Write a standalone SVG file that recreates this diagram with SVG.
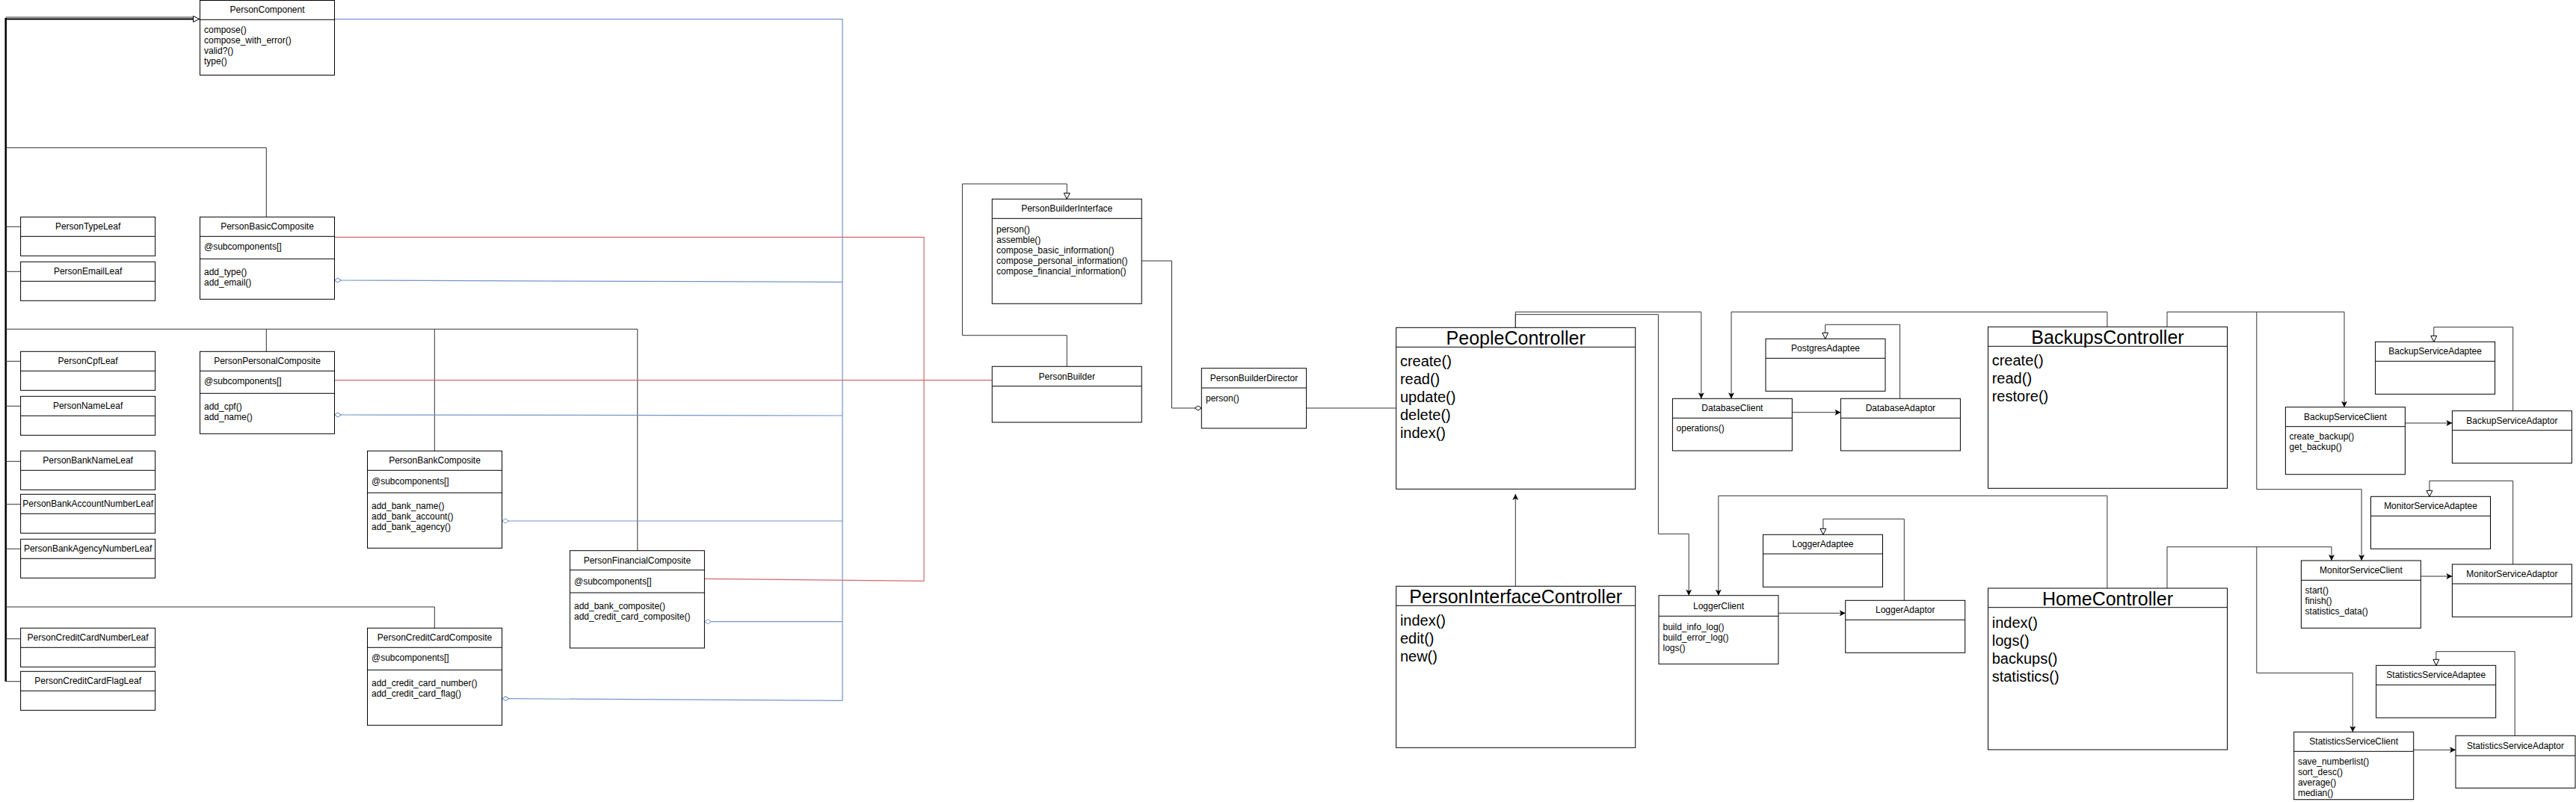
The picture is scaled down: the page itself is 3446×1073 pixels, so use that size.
<svg xmlns="http://www.w3.org/2000/svg" width="3446" height="1073" viewBox="0 0 3446 1073">
<style>
.b{fill:#fff;stroke:#000;stroke-width:1}
.d{stroke:#000;stroke-width:1}
.t{font-family:"Liberation Sans",Arial,sans-serif;font-size:12px;fill:#000;dominant-baseline:central}
.c{text-anchor:middle}
.L{font-size:25px}
.M{font-size:20px}
.ln{fill:none;stroke:#333;stroke-width:1}
.bl{fill:none;stroke:#7595c9;stroke-width:1.2}
.rd{fill:none;stroke:#d06a6a;stroke-width:1.2}
</style>
<defs>
<marker id="ar" markerUnits="userSpaceOnUse" markerWidth="10" markerHeight="10" refX="8" refY="4" orient="auto"><path d="M0,0 L8,4 L0,8 L2,4 z" fill="#000"/></marker>
<marker id="tri" markerUnits="userSpaceOnUse" markerWidth="12" markerHeight="12" refX="9" refY="5" orient="auto"><path d="M1,1 L9,5 L1,9 z" fill="#fff" stroke="#000"/></marker>
<marker id="dia" markerUnits="userSpaceOnUse" markerWidth="12" markerHeight="8" refX="1" refY="4" orient="auto"><path d="M1,4 L5.5,1 L10,4 L5.5,7 z" fill="#fff" stroke="#7595c9"/></marker>
<marker id="diak" markerUnits="userSpaceOnUse" markerWidth="12" markerHeight="8" refX="10" refY="4" orient="auto"><path d="M1,4 L5.5,1 L10,4 L5.5,7 z" fill="#fff" stroke="#000"/></marker>
</defs>
<rect width="3446" height="1073" fill="#fff"/>

<g id="connectors">
<!-- composite hierarchy -->
<path class="ln" d="M7.7,23 H262" stroke="#888"/>
<path d="M7.7,24 V911.7" fill="none" stroke="#000" stroke-width="2.5"/>
<path d="M7.7,25.5 H266.5" fill="none" stroke="#000" stroke-width="2" marker-end="url(#tri)"/>
<path class="ln" d="M7.7,197.7 H356.3 V290.3"/>
<path class="ln" d="M7.7,303.3 H27.6 M7.7,363.3 H27.6 M7.7,483.3 H27.6 M7.7,543.3 H27.6 M7.7,617.3 H27.6 M7.7,674.7 H27.6 M7.7,734.3 H27.6 M7.7,854.7 H27.6 M7.7,911.7 H27.6"/>
<path class="ln" d="M7.7,440.3 H852.8 V736.7 M356.3,440.3 V470.3 M581.3,440.3 V603.3"/>
<path class="ln" d="M7.7,812 H581.3 V840.3"/>
<!-- blue aggregation -->
<path class="bl" d="M447.4,25.7 H1127 V937.3"/>
<path class="bl" d="M447.4,375 L1127,377.3" marker-start="url(#dia)"/>
<path class="bl" d="M447.4,555 L1127,556" marker-start="url(#dia)"/>
<path class="bl" d="M671.6,697 H1127" marker-start="url(#dia)"/>
<path class="bl" d="M942.5,831.7 H1127" marker-start="url(#dia)"/>
<path class="bl" d="M671.8,934.7 L1127,937.3" marker-start="url(#dia)"/>
<!-- red builder links -->
<path class="rd" d="M447.4,317.3 H1236 V777.3"/>
<path class="rd" d="M447.4,508.7 H1327.2"/>
<path class="rd" d="M942.5,774.3 L1236,777.3"/>
<!-- builder -->
<path class="ln" d="M1427.2,490.3 V448.7 H1287.4 V246 H1427.2 V266.3" marker-end="url(#tri)"/>
<path class="ln" d="M1527.2,349 H1567.5 V546 H1607.3" marker-end="url(#diak)"/>
<path class="ln" d="M1747.6,546 H1867.7"/>
<!-- controllers -->
<path class="ln" d="M2027.3,438.3 V417.3 H2275.8 V533.3" marker-end="url(#ar)"/>
<path class="ln" d="M2027.3,438.3 V420.7 H2218.4 V714.3 H2259.2 V796.7" marker-end="url(#ar)"/>
<path class="ln" d="M2027.3,784.3 V661" marker-end="url(#ar)"/>
<path class="ln" d="M2818.9,437.3 V417.3 H2316 V533.3" marker-end="url(#ar)"/>
<path class="ln" d="M2899,437.3 V417.3 H3136 V544.7" marker-end="url(#ar)"/>
<path class="ln" d="M3018.8,417.3 V654.7 H3159.1 V750" marker-end="url(#ar)"/>
<path class="ln" d="M2818.9,787 V663.3 H2298.8 V796.7" marker-end="url(#ar)"/>
<path class="ln" d="M2899,787 V731.7 H3119 V750" marker-end="url(#ar)"/>
<path class="ln" d="M3018.8,731.7 V900.3 H3147.3 V979.3" marker-end="url(#ar)"/>
<!-- adapters -->
<path class="ln" d="M2397.5,551.7 H2462.4" marker-end="url(#ar)"/>
<path class="ln" d="M2541.6,533.3 V434.3 H2441.7 V453.3" marker-end="url(#tri)"/>
<path class="ln" d="M2378.6,820.3 H2468.7" marker-end="url(#ar)"/>
<path class="ln" d="M2547.3,803.3 V694.3 H2438.9 V715.3" marker-end="url(#tri)"/>
<path class="ln" d="M3217.2,566 H3280.4" marker-end="url(#ar)"/>
<path class="ln" d="M3361.7,549.7 V437.7 H3255.8 V457.3" marker-end="url(#tri)"/>
<path class="ln" d="M3238.3,771 H3280.4" marker-end="url(#ar)"/>
<path class="ln" d="M3361.7,755 V643.3 H3250 V664.3" marker-end="url(#tri)"/>
<path class="ln" d="M3228.5,1003.3 H3285" marker-end="url(#ar)"/>
<path class="ln" d="M3364.2,984.3 V871.7 H3258.9 V890.3" marker-end="url(#tri)"/>
</g>

<g id="PersonComponent"><rect class="b" x="267.5" y="0.5" width="180" height="100"/><line class="d" x1="267.5" y1="26.3" x2="447.5" y2="26.3"/><text class="t c" x="357.5" y="13.4">PersonComponent</text><text class="t" x="273" y="40.3">compose()</text><text class="t" x="273" y="54.3">compose_with_error()</text><text class="t" x="273" y="68.3">valid?()</text><text class="t" x="273" y="82.3">type()</text></g>

<g id="PersonTypeLeaf"><rect class="b" x="27.6" y="290.3" width="180" height="52"/><line class="d" x1="27.6" y1="316.3" x2="207.6" y2="316.3"/><text class="t c" x="117.6" y="303.3">PersonTypeLeaf</text></g>
<g id="PersonEmailLeaf"><rect class="b" x="27.6" y="350.3" width="180" height="52"/><line class="d" x1="27.6" y1="376.3" x2="207.6" y2="376.3"/><text class="t c" x="117.6" y="363.3">PersonEmailLeaf</text></g>
<g id="PersonCpfLeaf"><rect class="b" x="27.6" y="470.3" width="180" height="52"/><line class="d" x1="27.6" y1="496.3" x2="207.6" y2="496.3"/><text class="t c" x="117.6" y="483.3">PersonCpfLeaf</text></g>
<g id="PersonNameLeaf"><rect class="b" x="27.6" y="530.3" width="180" height="52"/><line class="d" x1="27.6" y1="556.3" x2="207.6" y2="556.3"/><text class="t c" x="117.6" y="543.3">PersonNameLeaf</text></g>
<g id="PersonBankNameLeaf"><rect class="b" x="27.6" y="603.3" width="180" height="52"/><line class="d" x1="27.6" y1="629.3" x2="207.6" y2="629.3"/><text class="t c" x="117.6" y="616.3">PersonBankNameLeaf</text></g>
<g id="PersonBankAccountNumberLeaf"><rect class="b" x="27.6" y="661.3" width="180" height="52"/><line class="d" x1="27.6" y1="687.3" x2="207.6" y2="687.3"/><text class="t c" x="117.6" y="674.3">PersonBankAccountNumberLeaf</text></g>
<g id="PersonBankAgencyNumberLeaf"><rect class="b" x="27.6" y="721.3" width="180" height="52"/><line class="d" x1="27.6" y1="747.3" x2="207.6" y2="747.3"/><text class="t c" x="117.6" y="734.3">PersonBankAgencyNumberLeaf</text></g>
<g id="PersonCreditCardNumberLeaf"><rect class="b" x="27.6" y="840.3" width="180" height="52"/><line class="d" x1="27.6" y1="866.3" x2="207.6" y2="866.3"/><text class="t c" x="117.6" y="853.3">PersonCreditCardNumberLeaf</text></g>
<g id="PersonCreditCardFlagLeaf"><rect class="b" x="27.6" y="898.3" width="180" height="52"/><line class="d" x1="27.6" y1="924.3" x2="207.6" y2="924.3"/><text class="t c" x="117.6" y="911.3">PersonCreditCardFlagLeaf</text></g>

<g id="PersonBasicComposite"><rect class="b" x="267.5" y="290.3" width="180" height="110"/><line class="d" x1="267.5" y1="316.3" x2="447.5" y2="316.3"/><line class="d" x1="267.5" y1="346.3" x2="447.5" y2="346.3"/><text class="t c" x="357.5" y="303.3">PersonBasicComposite</text><text class="t" x="273" y="330.3">@subcomponents[]</text><text class="t" x="273" y="364.3">add_type()</text><text class="t" x="273" y="378.3">add_email()</text></g>
<g id="PersonPersonalComposite"><rect class="b" x="267.5" y="470.3" width="180" height="110"/><line class="d" x1="267.5" y1="496.3" x2="447.5" y2="496.3"/><line class="d" x1="267.5" y1="526.3" x2="447.5" y2="526.3"/><text class="t c" x="357.5" y="483.3">PersonPersonalComposite</text><text class="t" x="273" y="510.3">@subcomponents[]</text><text class="t" x="273" y="544.3">add_cpf()</text><text class="t" x="273" y="558.3">add_name()</text></g>
<g id="PersonBankComposite"><rect class="b" x="491.5" y="603.3" width="180" height="130"/><line class="d" x1="491.5" y1="629.3" x2="671.5" y2="629.3"/><line class="d" x1="491.5" y1="659.3" x2="671.5" y2="659.3"/><text class="t c" x="581.5" y="616.3">PersonBankComposite</text><text class="t" x="497" y="643.5">@subcomponents[]</text><text class="t" x="497" y="677.3">add_bank_name()</text><text class="t" x="497" y="691.3">add_bank_account()</text><text class="t" x="497" y="705.3">add_bank_agency()</text></g>
<g id="PersonFinancialComposite"><rect class="b" x="762.4" y="736.7" width="180" height="130.3" stroke="#444"/><line class="d" x1="762.4" y1="762.7" x2="942.4" y2="762.7" stroke="#444" stroke-width="1.5"/><line class="d" x1="762.4" y1="793" x2="942.4" y2="793" stroke="#444" stroke-width="1.5"/><text class="t c" x="852.4" y="749.7">PersonFinancialComposite</text><text class="t" x="768" y="777.5">@subcomponents[]</text><text class="t" x="768" y="811.3">add_bank_composite()</text><text class="t" x="768" y="825.3">add_credit_card_composite()</text></g>
<g id="PersonCreditCardComposite"><rect class="b" x="491.5" y="840.3" width="180" height="130"/><line class="d" x1="491.5" y1="866.3" x2="671.5" y2="866.3"/><line class="d" x1="491.5" y1="896.3" x2="671.5" y2="896.3"/><text class="t c" x="581.5" y="853.3">PersonCreditCardComposite</text><text class="t" x="497" y="880.3">@subcomponents[]</text><text class="t" x="497" y="914.3">add_credit_card_number()</text><text class="t" x="497" y="928.3">add_credit_card_flag()</text></g>

<g id="PersonBuilderInterface"><rect class="b" x="1327.2" y="266.3" width="200" height="140"/><line class="d" x1="1327.2" y1="292.3" x2="1527.2" y2="292.3"/><text class="t c" x="1427.2" y="279.3">PersonBuilderInterface</text><text class="t" x="1333" y="306.7">person()</text><text class="t" x="1333" y="320.7">assemble()</text><text class="t" x="1333" y="334.7">compose_basic_information()</text><text class="t" x="1333" y="348.7">compose_personal_information()</text><text class="t" x="1333" y="362.7">compose_financial_information()</text></g>
<g id="PersonBuilder"><rect class="b" x="1327.2" y="490.3" width="200" height="74.7" stroke="#444"/><line class="d" x1="1327.2" y1="516.7" x2="1527.2" y2="516.7" stroke="#444" stroke-width="1.5"/><text class="t c" x="1427.2" y="503.5">PersonBuilder</text></g>
<g id="PersonBuilderDirector"><rect class="b" x="1607.3" y="492.7" width="140.3" height="80.3"/><line class="d" x1="1607.3" y1="519" x2="1747.6" y2="519" stroke="#444" stroke-width="1.5"/><text class="t c" x="1677.5" y="505.9">PersonBuilderDirector</text><text class="t" x="1613" y="533.3">person()</text></g>

<g id="PeopleController"><rect class="b" x="1867.7" y="438.3" width="320" height="216"/><line class="d" x1="1867.7" y1="464.3" x2="2187.7" y2="464.3"/><text class="t c L" x="2027.7" y="452.3">PeopleController</text><text class="t M" x="1872.9" y="483.3">create()</text><text class="t M" x="1872.9" y="507.3">read()</text><text class="t M" x="1872.9" y="531.3">update()</text><text class="t M" x="1872.9" y="555.3">delete()</text><text class="t M" x="1872.9" y="579.3">index()</text></g>
<g id="PersonInterfaceController"><rect class="b" x="1867.7" y="784.3" width="320" height="216"/><line class="d" x1="1867.7" y1="810.3" x2="2187.7" y2="810.3"/><text class="t c L" x="2027.7" y="798.3">PersonInterfaceController</text><text class="t M" x="1872.9" y="830">index()</text><text class="t M" x="1872.9" y="854">edit()</text><text class="t M" x="1872.9" y="878">new()</text></g>
<g id="PostgresAdaptee"><rect class="b" x="2362" y="453.3" width="160" height="70"/><line class="d" x1="2362" y1="479.3" x2="2522" y2="479.3"/><text class="t c" x="2442" y="466.3">PostgresAdaptee</text></g>
<g id="DatabaseClient"><rect class="b" x="2237.4" y="533.3" width="160" height="69.7"/><line class="d" x1="2237.4" y1="559.3" x2="2397.4" y2="559.3"/><text class="t c" x="2317.4" y="546.3">DatabaseClient</text><text class="t" x="2242.6" y="573.3">operations()</text></g>
<g id="DatabaseAdaptor"><rect class="b" x="2462.4" y="533.3" width="160" height="69.7"/><line class="d" x1="2462.4" y1="559.3" x2="2622.4" y2="559.3"/><text class="t c" x="2542.4" y="546.3">DatabaseAdaptor</text></g>
<g id="LoggerAdaptee"><rect class="b" x="2358.5" y="715.3" width="160" height="70"/><line class="d" x1="2358.5" y1="741" x2="2518.5" y2="741"/><text class="t c" x="2438.5" y="728.2">LoggerAdaptee</text></g>
<g id="LoggerClient"><rect class="b" x="2219" y="796.7" width="160" height="91.6"/><line class="d" x1="2219" y1="824.3" x2="2379" y2="824.3"/><text class="t c" x="2299" y="810.5">LoggerClient</text><text class="t" x="2224.5" y="838.7">build_info_log()</text><text class="t" x="2224.5" y="852.7">build_error_log()</text><text class="t" x="2224.5" y="866.7">logs()</text></g>
<g id="LoggerAdaptor"><rect class="b" x="2468.7" y="803.3" width="160" height="70"/><line class="d" x1="2468.7" y1="829.3" x2="2628.7" y2="829.3"/><text class="t c" x="2548.7" y="816.3">LoggerAdaptor</text></g>

<g id="BackupsController"><rect class="b" x="2659.5" y="437.3" width="320" height="216"/><line class="d" x1="2659.5" y1="463.3" x2="2979.5" y2="463.3"/><text class="t c L" x="2819.5" y="451.3">BackupsController</text><text class="t M" x="2664.7" y="482.3">create()</text><text class="t M" x="2664.7" y="506.3">read()</text><text class="t M" x="2664.7" y="530.3">restore()</text></g>
<g id="HomeController"><rect class="b" x="2659.5" y="787" width="320" height="216" stroke="#333"/><line class="d" x1="2659.5" y1="812.7" x2="2979.5" y2="812.7" stroke="#555" stroke-width="1.5"/><text class="t c L" x="2819.5" y="800.8">HomeController</text><text class="t M" x="2664.7" y="832.7">index()</text><text class="t M" x="2664.7" y="856.7">logs()</text><text class="t M" x="2664.7" y="880.7">backups()</text><text class="t M" x="2664.7" y="904.7">statistics()</text></g>
<g id="BackupServiceAdaptee"><rect class="b" x="3177.6" y="457.3" width="160" height="70"/><line class="d" x1="3177.6" y1="483.3" x2="3337.6" y2="483.3"/><text class="t c" x="3257.6" y="470.3">BackupServiceAdaptee</text></g>
<g id="BackupServiceClient"><rect class="b" x="3057.4" y="544.7" width="160" height="90"/><line class="d" x1="3057.4" y1="570.7" x2="3217.4" y2="570.7"/><text class="t c" x="3137.4" y="557.7">BackupServiceClient</text><text class="t" x="3062.6" y="584.3">create_backup()</text><text class="t" x="3062.6" y="598.3">get_backup()</text></g>
<g id="BackupServiceAdaptor"><rect class="b" x="3280.4" y="549.7" width="160" height="70"/><line class="d" x1="3280.4" y1="575.7" x2="3440.4" y2="575.7"/><text class="t c" x="3360.4" y="562.7">BackupServiceAdaptor</text></g>
<g id="MonitorServiceAdaptee"><rect class="b" x="3171.5" y="664.3" width="160" height="70"/><line class="d" x1="3171.5" y1="690.3" x2="3331.5" y2="690.3"/><text class="t c" x="3251.5" y="677.3">MonitorServiceAdaptee</text></g>
<g id="MonitorServiceClient"><rect class="b" x="3078.4" y="750" width="160" height="90.3"/><line class="d" x1="3078.4" y1="776.3" x2="3238.4" y2="776.3"/><text class="t c" x="3158.4" y="763.2">MonitorServiceClient</text><text class="t" x="3083.6" y="790.3">start()</text><text class="t" x="3083.6" y="804.3">finish()</text><text class="t" x="3083.6" y="818.3">statistics_data()</text></g>
<g id="MonitorServiceAdaptor"><rect class="b" x="3280.4" y="755" width="160" height="70.3"/><line class="d" x1="3280.4" y1="781" x2="3440.4" y2="781"/><text class="t c" x="3360.4" y="768">MonitorServiceAdaptor</text></g>
<g id="StatisticsServiceAdaptee"><rect class="b" x="3178.7" y="890.3" width="160" height="70"/><line class="d" x1="3178.7" y1="916.3" x2="3338.7" y2="916.3"/><text class="t c" x="3258.7" y="903.3">StatisticsServiceAdaptee</text></g>
<g id="StatisticsServiceClient"><rect class="b" x="3068.7" y="979.3" width="160" height="90.4"/><line class="d" x1="3068.7" y1="1005.3" x2="3228.7" y2="1005.3"/><text class="t c" x="3148.7" y="992.3">StatisticsServiceClient</text><text class="t" x="3073.9" y="1019.3">save_numberlist()</text><text class="t" x="3073.9" y="1033.3">sort_desc()</text><text class="t" x="3073.9" y="1047.3">average()</text><text class="t" x="3073.9" y="1061.3">median()</text></g>
<g id="StatisticsServiceAdaptor"><rect class="b" x="3285" y="984.3" width="160" height="70"/><line class="d" x1="3285" y1="1011" x2="3445" y2="1011"/><text class="t c" x="3365" y="997.6">StatisticsServiceAdaptor</text></g>
</svg>
